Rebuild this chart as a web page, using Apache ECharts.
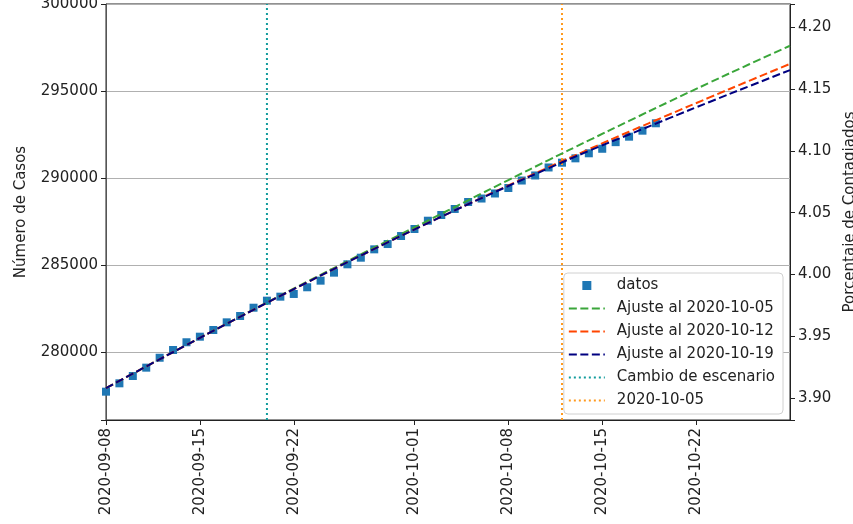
<!DOCTYPE html>
<html><head><meta charset="utf-8">
<script src="https://cdn.jsdelivr.net/npm/echarts@6/dist/echarts.min.js"></script>
<style>html,body{margin:0;padding:0;background:#fff}#c{width:853px;height:524px}</style>
</head><body><div id="c"></div>
<script>
const dataDates = ['2020-09-08','2020-09-09','2020-09-10','2020-09-11','2020-09-12','2020-09-13','2020-09-14','2020-09-15','2020-09-16','2020-09-17','2020-09-18','2020-09-19','2020-09-20','2020-09-21','2020-09-22','2020-09-23','2020-09-24','2020-09-25','2020-09-26','2020-09-27','2020-09-28','2020-09-29','2020-09-30','2020-10-01','2020-10-02','2020-10-03','2020-10-04','2020-10-05','2020-10-06','2020-10-07','2020-10-08','2020-10-09','2020-10-10','2020-10-11','2020-10-12','2020-10-13','2020-10-14','2020-10-15','2020-10-16','2020-10-17','2020-10-18','2020-10-19'];
const dataCases = [277720,278200,278620,279100,279670,280115,280560,280880,281265,281705,282070,282545,282950,283180,283335,283720,284100,284560,285040,285420,285900,286205,286665,287070,287545,287875,288220,288620,288820,289110,289425,289855,290145,290605,290880,291130,291420,291680,292060,292375,292720,293145];
const fitDates = ['2020-09-08','2020-09-11','2020-09-14','2020-09-17','2020-09-20','2020-09-23','2020-09-26','2020-09-29','2020-10-02','2020-10-05','2020-10-08','2020-10-11','2020-10-14','2020-10-17','2020-10-20','2020-10-23','2020-10-26','2020-10-29'];
const fit1005 = [277930,279170,280400,281630,282850,284040,285220,286390,287550,288720,289880,291030,292160,293280,294390,295480,296550,297600];
const fit1012 = [277930,279170,280400,281620,282830,284000,285160,286300,287410,288500,289570,290620,291650,292660,293650,294630,295600,296560];
const fit1019 = [277930,279170,280400,281620,282830,284000,285160,286300,287410,288490,289540,290560,291560,292500,293440,294370,295290,296200];
const cambioDate = '2020-09-20';
const refDate = '2020-10-12';
const xTickDates = ['2020-09-08','2020-09-15','2020-09-22','2020-10-01','2020-10-08','2020-10-15','2020-10-22'];
const xMinDate = '2020-09-08', xMaxDate = '2020-10-29';
const yMin = 276092, yMax = 300000;
const pctMin = 3.8824, pctMax = 4.2186;

function ts(s){ return new Date(s + 'T00:00:00').getTime(); }
function fmt(v){ const d = new Date(v); const p = n => String(n).padStart(2,'0'); return d.getFullYear()+'-'+p(d.getMonth()+1)+'-'+p(d.getDate()); }
const FONT = 'DejaVu Sans';
const chart = echarts.init(document.getElementById('c'));
const dashed = [8,3.5];
const dotted = [2,3];
const clear = 'rgba(0,0,0,0)';
chart.setOption({
  animation: false,
  textStyle: {fontFamily: FONT},
  grid: {left: 106, right: 63, top: 4, bottom: 104, show: true, borderColor: '#222', borderWidth: 1, outerBoundsMode: 'none', containLabel: false},
  legend: {
    orient: 'vertical', right: 70, bottom: 110,
    backgroundColor: '#fff', borderColor: '#d0d0d0', borderWidth: 1, borderRadius: 4,
    padding: [5, 8, 6, 4], itemWidth: 36, itemHeight: 14, itemGap: 8,
    textStyle: {fontFamily: FONT, fontSize: 15, color: '#222', lineHeight: 15, padding: [0,0,0,7]},
    data: [
      {name: 'datos', icon: 'path://M0,0L0,0M36,14L36,14M13.5,2.5h9v9h-9z'},
      'Ajuste al 2020-10-05', 'Ajuste al 2020-10-12', 'Ajuste al 2020-10-19',
      'Cambio de escenario', '2020-10-05'
    ]
  },
  xAxis: {
    type: 'value', min: ts(xMinDate), max: ts(xMaxDate),
    axisLine: {show: true, lineStyle: {color: '#222'}},
    axisTick: {show: true, length: 5, customValues: xTickDates.map(ts), lineStyle: {color: '#222'}},
    axisLabel: {customValues: xTickDates.map(ts), rotate: 90, formatter: v => fmt(v), fontFamily: FONT, fontSize: 15, color: '#222', margin: 8},
    splitLine: {show: false}
  },
  yAxis: [
    {
      type: 'value', min: yMin, max: yMax, splitNumber: 5, position: 'left',
      name: 'Número de Casos', nameLocation: 'middle', nameGap: 77,
      nameTextStyle: {fontFamily: FONT, fontSize: 15, color: '#222'},
      axisLine: {show: true, lineStyle: {color: '#555'}},
      axisTick: {show: true, length: 5, lineStyle: {color: '#222'}},
      axisLabel: {fontFamily: FONT, fontSize: 15, color: '#222', margin: 8,
        formatter: v => Math.abs(v/5000 - Math.round(v/5000)) < 1e-6 ? String(Math.round(v)) : ''},
      splitLine: {show: true, lineStyle: {color: '#b0b0b0', width: 1}}
    },
    {
      type: 'value', min: pctMin, max: pctMax, splitNumber: 7, position: 'right',
      name: 'Porcentaje de Contagiados', nameLocation: 'middle', nameGap: 47,
      nameTextStyle: {fontFamily: FONT, fontSize: 15, color: '#222'},
      axisLine: {show: true, lineStyle: {color: '#222'}},
      axisTick: {show: true, length: 5, lineStyle: {color: '#222'}},
      axisLabel: {fontFamily: FONT, fontSize: 15, color: '#222', margin: 8,
        formatter: v => Math.abs(v*20 - Math.round(v*20)) < 1e-6 ? v.toFixed(2) : ''},
      splitLine: {show: false}
    }
  ],
  series: [
    {name: 'Cambio de escenario', type: 'line', symbol: 'none', yAxisIndex: 0,
      data: [[ts(cambioDate), yMin], [ts(cambioDate), yMax]],
      itemStyle: {color: clear}, lineStyle: {color: '#119c9c', width: 2, type: dotted}},
    {name: '2020-10-05', type: 'line', symbol: 'none', yAxisIndex: 0,
      data: [[ts(refDate), yMin], [ts(refDate), yMax]],
      itemStyle: {color: clear}, lineStyle: {color: '#ff9a1f', width: 2, type: dotted}},
    {name: 'datos', type: 'scatter', symbol: 'rect', symbolSize: 8, yAxisIndex: 0,
      data: dataDates.map((d, i) => [ts(d), dataCases[i]]), itemStyle: {color: '#1f77b4', opacity: 1}},
    {name: 'Ajuste al 2020-10-05', type: 'line', symbol: 'none', smooth: true, yAxisIndex: 0,
      data: fitDates.map((d, i) => [ts(d), fit1005[i]]),
      itemStyle: {color: clear}, lineStyle: {color: '#3aa63a', width: 2, type: dashed}},
    {name: 'Ajuste al 2020-10-12', type: 'line', symbol: 'none', smooth: true, yAxisIndex: 0,
      data: fitDates.map((d, i) => [ts(d), fit1012[i]]),
      itemStyle: {color: clear}, lineStyle: {color: '#ff4500', width: 2, type: dashed}},
    {name: 'Ajuste al 2020-10-19', type: 'line', symbol: 'none', smooth: true, yAxisIndex: 0,
      data: fitDates.map((d, i) => [ts(d), fit1019[i]]),
      itemStyle: {color: clear}, lineStyle: {color: '#000080', width: 2, type: dashed}}
  ]
});
</script></body></html>
